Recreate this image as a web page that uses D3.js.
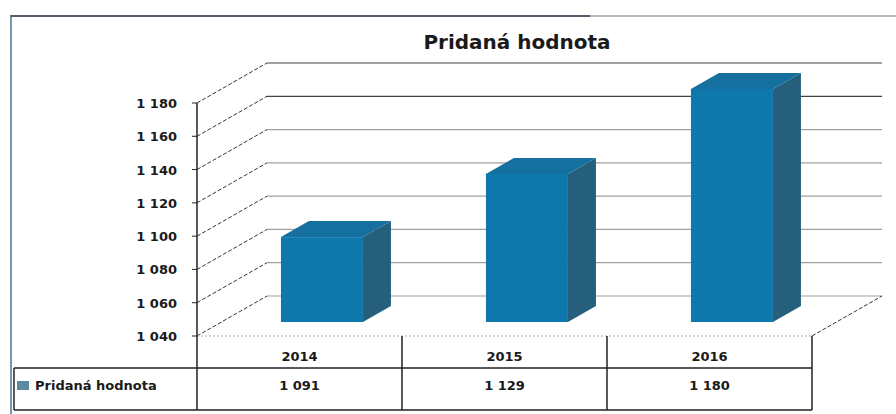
<!DOCTYPE html>
<html><head><meta charset="utf-8">
<script src="https://cdn.jsdelivr.net/npm/d3@7"></script>
<style>body{margin:0;background:#fff;}svg{display:block;}</style>
</head><body>
<script>
const title = "Pridaná hodnota";
const seriesName = "Pridaná hodnota";
const categories = ["2014", "2015", "2016"];
const values = [1091, 1129, 1180];
const tickValues = [1040, 1060, 1080, 1100, 1120, 1140, 1160, 1180];

const W = 896, H = 414;
const fmt = v => d3.format(",")(v).replace(/,/g, " ");
const svg = d3.select("body").append("svg").attr("width", W).attr("height", H);
const FONT = "DejaVu Sans, Verdana, sans-serif";

// geometry
const x0 = 197, x1 = 812, yTop = 103, yBot = 336;
const DX = 70, DY = -40; // depth offset of back wall
const x = d3.scaleBand().domain(categories).range([x0, x1]);
const y = d3.scaleLinear().domain([1040, 1180]).range([yBot, yTop]);

// outer frame
svg.append("line").attr("x1", 11).attr("x2", 11).attr("y1", 15).attr("y2", H).attr("stroke", "#7397ab").attr("stroke-width", 2);
svg.append("line").attr("x1", 11).attr("x2", 590).attr("y1", 16).attr("y2", 16).attr("stroke", "#1c2a3a").attr("stroke-width", 1.5);
svg.append("line").attr("x1", 590).attr("x2", W).attr("y1", 16).attr("y2", 16).attr("stroke", "#9aa3aa").attr("stroke-width", 1.5);

// title
svg.append("text").attr("x", 517).attr("y", 49).attr("text-anchor", "middle")
  .attr("font-family", FONT).attr("font-weight", "bold").attr("font-size", 20).attr("fill", "#1a1a1a").text(title);

const g = svg.append("g");
// back wall gridlines
g.selectAll(".grid").data(tickValues).join("line")
  .attr("x1", x0 + DX).attr("x2", x1 + DX)
  .attr("y1", d => y(d) + DY).attr("y2", d => y(d) + DY)
  .attr("stroke", (d, i) => i >= tickValues.length - 2 ? "#444" : "#a0a0a0").attr("stroke-width", 1.2);
// left wall diagonals
g.selectAll(".diag").data(tickValues).join("line")
  .attr("x1", x0).attr("x2", x0 + DX)
  .attr("y1", d => y(d)).attr("y2", d => y(d) + DY)
  .attr("stroke", "#333").attr("stroke-width", 1).attr("stroke-dasharray", "4,2");
// floor
g.append("line").attr("x1", x0).attr("x2", x1).attr("y1", yBot).attr("y2", yBot).attr("stroke", "#aaa").attr("stroke-dasharray", "2,2");
g.append("line").attr("x1", x1).attr("x2", x1 + DX).attr("y1", yBot).attr("y2", yBot + DY).attr("stroke", "#333").attr("stroke-dasharray", "4,2");

// y axis
g.append("line").attr("x1", x0).attr("x2", x0).attr("y1", yTop).attr("y2", 410).attr("stroke", "#222").attr("stroke-width", 1.5);
g.selectAll(".tick").data(tickValues).join("line")
  .attr("x1", x0 - 5).attr("x2", x0).attr("y1", d => y(d)).attr("y2", d => y(d)).attr("stroke", "#222");
g.selectAll(".tl").data(tickValues).join("text")
  .attr("x", 177).attr("y", d => y(d) + 5).attr("text-anchor", "end")
  .attr("font-family", FONT).attr("font-weight", "bold").attr("font-size", 13).attr("fill", "#1a1a1a")
  .text(fmt);

// bars (3D boxes)
const f0 = 0.35, f1 = 0.75;
const bw = x.bandwidth();
categories.forEach((c, i) => {
  const v = values[i];
  const bx = x(c) + bw * 0.29 + f0 * DX;
  const w = bw * 0.4;
  const ddx = (f1 - f0) * DX, ddy = (f1 - f0) * DY;
  const yb = y(1040) + f0 * DY, yt = y(v) + f0 * DY;
  g.append("path").attr("d", `M${bx + w},${yb}L${bx + w + ddx},${yb + ddy}L${bx + w + ddx},${yt + ddy}L${bx + w},${yt}Z`).attr("fill", "#255f7c");
  g.append("path").attr("d", `M${bx},${yt}L${bx + ddx},${yt + ddy}L${bx + w + ddx},${yt + ddy}L${bx + w},${yt}Z`).attr("fill", "#16709f");
  g.append("rect").attr("x", bx).attr("y", yt).attr("width", w).attr("height", yb - yt).attr("fill", "#0e78ac");
});

// data table
const rowTop = 336, rowMid = 368, rowBot = 410;
const t = svg.append("g");
t.append("line").attr("x1", 14).attr("x2", x1).attr("y1", rowMid).attr("y2", rowMid).attr("stroke", "#222").attr("stroke-width", 1.5);
t.append("line").attr("x1", 14).attr("x2", x1).attr("y1", rowBot).attr("y2", rowBot).attr("stroke", "#222").attr("stroke-width", 1.5);
t.append("line").attr("x1", 14).attr("x2", 14).attr("y1", rowMid).attr("y2", rowBot).attr("stroke", "#222").attr("stroke-width", 1.5);
t.selectAll(".vl").data(categories.slice(1).map(c => x(c)).concat([x1])).join("line")
  .attr("x1", d => d).attr("x2", d => d).attr("y1", rowTop).attr("y2", rowBot).attr("stroke", "#222").attr("stroke-width", 1.5);
t.selectAll(".cat").data(categories).join("text")
  .attr("x", d => x(d) + bw / 2).attr("y", 361).attr("text-anchor", "middle")
  .attr("font-family", FONT).attr("font-weight", "bold").attr("font-size", 13).attr("fill", "#1a1a1a").text(d => d);
t.selectAll(".val").data(values).join("text")
  .attr("x", (d, i) => x(categories[i]) + bw / 2).attr("y", 390).attr("text-anchor", "middle")
  .attr("font-family", FONT).attr("font-weight", "bold").attr("font-size", 13).attr("fill", "#1a1a1a").text(fmt);
t.append("rect").attr("x", 17).attr("y", 381).attr("width", 12).attr("height", 9).attr("fill", "#5b8aa0");
t.append("text").attr("x", 35).attr("y", 390).attr("font-family", FONT).attr("font-weight", "bold")
  .attr("font-size", 13).attr("fill", "#1a1a1a").text(seriesName);
</script>
</body></html>
